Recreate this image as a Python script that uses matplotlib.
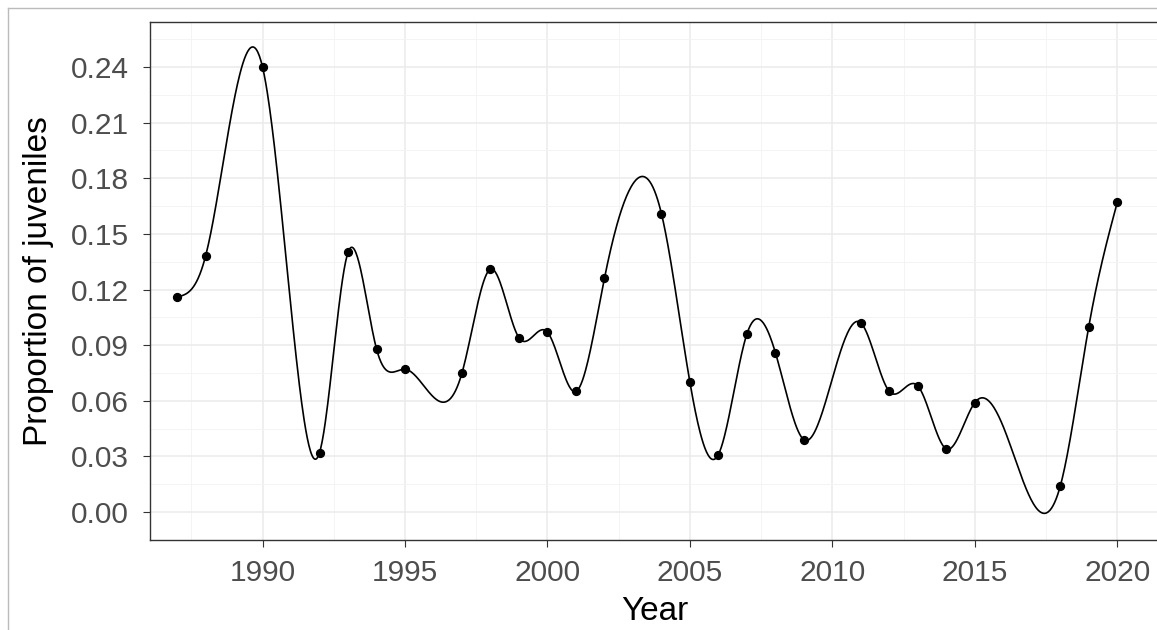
import numpy as np
import matplotlib
matplotlib.use("Agg")
import matplotlib.pyplot as plt
from matplotlib.lines import Line2D

plt.rcParams['font.family'] = ['Liberation Sans', 'DejaVu Sans']

# observed points
years = [1987,1988,1990,1992,1993,1994,1995,1997,1998,1999,2000,2001,2002,2004,
         2005,2006,2007,2008,2009,2011,2012,2013,2014,2015,2018,2019,2020]
props = [0.116,0.138,0.240,0.032,0.140,0.088,0.077,0.075,0.131,0.094,0.097,0.065,0.126,0.161,
         0.070,0.031,0.096,0.086,0.039,0.102,0.065,0.068,0.034,0.059,0.014,0.100,0.167]
# yearly knots of the smoothed line (including unplotted years)
line_years = list(range(1987, 2021))
line_vals = [0.116,0.138,0.222,0.240,0.110,0.032,0.140,0.088,0.077,0.062,0.075,0.131,0.094,0.097,
             0.065,0.126,0.177,0.161,0.070,0.031,0.096,0.086,0.039,0.072,0.102,0.065,0.068,0.034,
             0.059,0.046,0.006,0.014,0.100,0.167]

def natural_spline(x, y, xs):
    x = np.asarray(x, float); y = np.asarray(y, float)
    n = len(x); h = np.diff(x)
    A = np.zeros((n, n)); b = np.zeros(n)
    A[0, 0] = A[-1, -1] = 1
    for i in range(1, n-1):
        A[i, i-1] = h[i-1]; A[i, i] = 2*(h[i-1]+h[i]); A[i, i+1] = h[i]
        b[i] = 3*((y[i+1]-y[i])/h[i] - (y[i]-y[i-1])/h[i-1])
    c = np.linalg.solve(A, b)
    idx = np.clip(np.searchsorted(x, xs) - 1, 0, n-2)
    dx = xs - x[idx]
    bb = (y[1:]-y[:-1])/h - h*(2*c[:-1]+c[1:])/3
    d = (c[1:]-c[:-1])/(3*h)
    return y[idx] + bb[idx]*dx + c[idx]*dx**2 + d[idx]*dx**3

fig = plt.figure(figsize=(11.57, 6.30), dpi=100)
ax = fig.add_axes([150/1157, 1-540/630, 1010/1157, (540-22)/630])
xs = np.linspace(1987, 2020, 1200)
ax.plot(xs, natural_spline(line_years, line_vals, xs), color='black', lw=1.2, zorder=3)
ax.scatter(years, props, color='black', s=32, zorder=4)

ax.set_xlim(1986.05, 2021.5)
ax.set_ylim(-0.0151, 0.2643)
ax.set_xticks([1990,1995,2000,2005,2010,2015,2020])
ax.set_xticks(np.arange(1987.5, 2021, 5), minor=True)
yt = np.arange(0, 0.241, 0.03)
ax.set_yticks(yt)
ax.set_yticklabels([f"{v:.2f}" for v in yt])
ax.set_yticks(np.arange(0.015, 0.26, 0.03), minor=True)
ax.grid(which='major', color='#EBEBEB', lw=1.1)
ax.grid(which='minor', color='#F3F3F3', lw=0.6)
ax.set_axisbelow(True)
for s in ax.spines.values():
    s.set_color('#333333'); s.set_linewidth(1.0)
ax.tick_params(which='major', colors='#333333', labelcolor='#4D4D4D', labelsize=21.5, length=5)
ax.tick_params(axis='y', pad=10)
ax.tick_params(axis='x', pad=9)
ax.tick_params(which='minor', length=0)
ax.set_xlabel('Year', fontsize=24, labelpad=6)
ax.set_ylabel('Proportion of juveniles', fontsize=24, labelpad=12)

fig.add_artist(Line2D([8/1157, 8/1157], [0, 1-8/630], color='#BBBBBB', lw=1, transform=fig.transFigure))
fig.add_artist(Line2D([8/1157, 1], [1-8/630, 1-8/630], color='#BBBBBB', lw=1, transform=fig.transFigure))
fig.savefig('out.png', dpi=100)
